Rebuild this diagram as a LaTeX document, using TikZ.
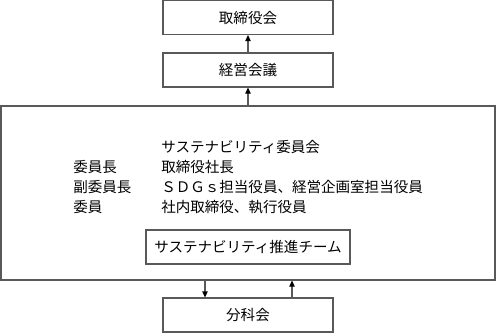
\documentclass[tikz,border=0pt]{standalone}
\usepackage{fontspec}
\newfontfamily\jp{Noto Sans CJK JP}
\usetikzlibrary{arrows.meta}
\begin{document}
\begin{tikzpicture}[x=0.75pt,y=-0.75pt,
  box/.style={draw=black!65,line width=0.8pt,minimum height=25.5pt,inner sep=0pt,font=\jp\fontsize{10.9pt}{12pt}\selectfont},
  txt/.style={anchor=base west,inner sep=0pt,font=\jp\fontsize{10.9pt}{12pt}\selectfont},
  arr/.style={draw=black!65,line width=0.8pt,-{Triangle[length=4.5pt,width=4pt,fill=black,color=black]}}]
\useasboundingbox (0,0) rectangle (496,333);
\node[box,minimum width=127.5pt] (torishimari) at (248,17.5) {取締役会};
\node[box,minimum width=127.5pt] (keiei) at (248,70) {経営会議};
\node[box,minimum width=370.5pt,minimum height=130.5pt] (big) at (248,193) {};
\node[box,minimum width=153pt] (team) at (248,247) {サステナビリティ推進チーム};
\node[box,minimum width=127.5pt] (bunka) at (248,315) {分科会};
\node[txt] (title) at (161,152.5) {サステナビリティ委員会};
\node[txt] (l1) at (73,172.5) {委員長};
\node[txt] (r1) at (161,172.5) {取締役社長};
\node[txt] (l2) at (73,192.5) {副委員長};
\node[txt] (r2) at (161,192.5) {ＳＤＧｓ担当役員、経営企画室担当役員};
\node[txt] (l3) at (73,212.5) {委員};
\node[txt] (r3) at (161,212.5) {社内取締役、執行役員};
\draw[arr] (keiei.north) -- (torishimari.south);
\draw[arr] (big.north) -- (keiei.south);
\draw[arr] (big.south -| 205,0) -- (bunka.north -| 205,0);
\draw[arr] (bunka.north -| 292,0) -- (big.south -| 292,0);
\end{tikzpicture}
\end{document}
